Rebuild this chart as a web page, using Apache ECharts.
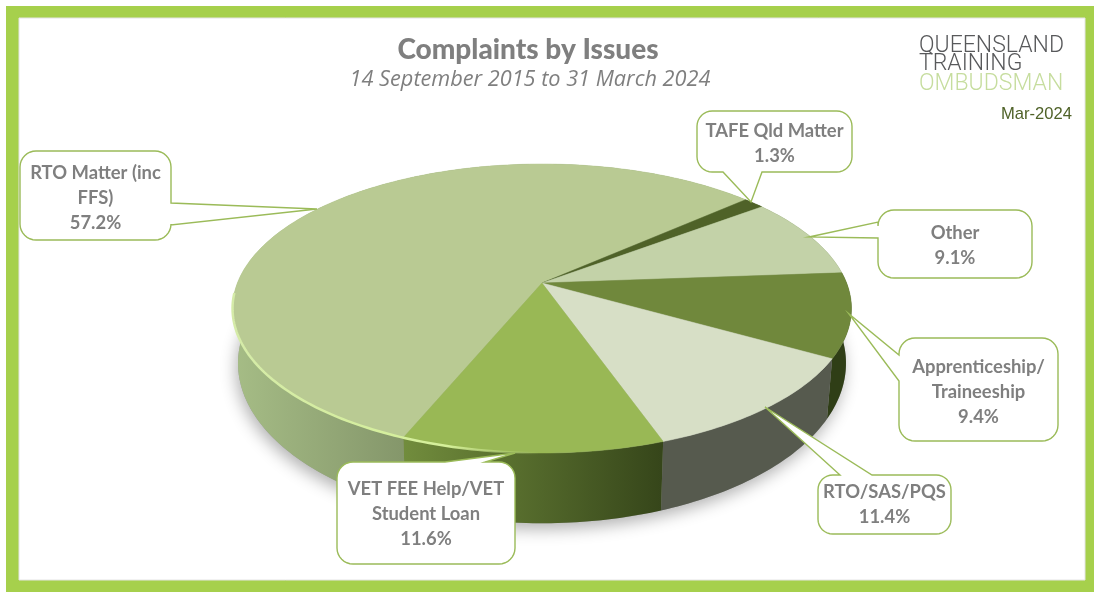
<!DOCTYPE html>
<html>
<head>
<meta charset="utf-8">
<title>Complaints by Issues</title>
<style>
html, body { margin: 0; padding: 0; background: #fff; }
#chart { width: 1094px; height: 595px; }
</style>
<script src="https://cdn.jsdelivr.net/npm/echarts@6/dist/echarts.min.js"></script>
</head>
<body>
<div id="chart"></div>
<script>
// values, clockwise from the edge RTO Matter starts at
const categories = ['RTO Matter (inc\nFFS)', 'TAFE Qld Matter', 'Other', 'Apprenticeship/\nTraineeship', 'RTO/SAS/PQS', 'VET FEE Help/VET\nStudent Loan']
const values = [57.2, 1.3, 9.1, 9.4, 11.4, 11.6]

const topColors = ['#b9ca93', '#4f6228', '#c3d2a8', '#70883c', '#d7dfc6', '#99b855']
const wallColors = [
    [232, 401, '#a6bd86', '#85976b'],
    [0, 1, '#4f6228', '#4f6228'],
    [0, 1, '#6a7a50', '#6a7a50'],
    [0, 1, '#2f3e16', '#2f3e16'],
    [0, 1, '#565a4e', '#565a4e'],
    [401, 661, '#728d3d', '#36461a']
]

// box [x0, y0, x1, y1], wedge base a, wedge base b, wedge tip
const callouts = [
    { box: [20, 151, 171, 240], a: [171, 203], b: [171, 225], tip: [317, 209], textY: 198 },
    { box: [697, 111, 852, 172], a: [762, 172], b: [723, 172], tip: [751, 202], textY: 144 },
    { box: [878, 210, 1032, 278], a: [878, 222], b: [878, 238], tip: [809, 237], textY: 246 },
    { box: [899, 338, 1058, 441], a: [899, 355], b: [899, 381], tip: [849, 314], textY: 392 },
    { box: [818, 475, 951, 534], a: [872, 475], b: [840, 475], tip: [765, 407], textY: 505 },
    { box: [337, 462, 515, 564], a: [485, 462], b: [445, 462], tip: [515, 453], textY: 514 }
]

// tilted disc: apex of the slices, radii and perspective factor
const topDisc = { cy: 283, rx: 304.6, ry: 140 }
const baseDisc = { cy: 335, rx: 299.2, ry: 155 }
const cx = 542, persp = 0.1765
const startAngle = 112.4

function project(deg, disc) {
    const t = deg * Math.PI / 180
    const u = Math.cos(t), v = Math.sin(t)
    const w = 1 - persp * v
    return [cx + disc.rx * u / w, disc.cy + disc.ry * v / w]
}

function arc(from, to, disc) {
    const pts = []
    const n = Math.max(2, Math.ceil(Math.abs(to - from)))
    for (let i = 0; i <= n; i++) {
        pts.push(project(from + (to - from) * i / n, disc))
    }
    return pts
}

const total = values.reduce((a, b) => a + b, 0)
function sliceAngles(idx) {
    let acc = 0
    for (let i = 0; i < idx; i++) acc += values[i]
    const from = startAngle + acc / total * 360
    return [from, from + values[idx] / total * 360]
}

function renderWall(params, api) {
    const i = params.dataIndex
    const [from, to] = sliceAngles(i)
    const pts = arc(from, to, topDisc).concat(arc(to, from, baseDisc))
    const c = wallColors[i]
    const children = []
    if (i === 0) {
        children.push({
            type: 'polygon',
            shape: { points: arc(0, 360, baseDisc) },
            style: { fill: '#999', shadowBlur: 16, shadowColor: 'rgba(0,0,0,0.3)', shadowOffsetX: -2, shadowOffsetY: 6 }
        })
    }
    children.push({
        type: 'polygon',
        shape: { points: pts },
        style: {
            fill: new echarts.graphic.LinearGradient(c[0], 0, c[1], 0, [
                { offset: 0, color: c[2] }, { offset: 1, color: c[3] }
            ], true)
        }
    })
    return { type: 'group', children: children }
}

function renderTop(params, api) {
    const i = params.dataIndex
    const [from, to] = sliceAngles(i)
    return {
        type: 'polygon',
        shape: { points: [[cx, topDisc.cy]].concat(arc(from, to, topDisc)) },
        style: { fill: topColors[i], stroke: topColors[i], lineWidth: 0.5 }
    }
}

// light bevel along the front left rim
function renderBevel() {
    return {
        type: 'polyline',
        shape: { points: arc(84, 176, topDisc) },
        style: {
            fill: null,
            lineWidth: 2.5,
            stroke: new echarts.graphic.LinearGradient(232, 0, 540, 0, [
                { offset: 0, color: '#d5eba8' },
                { offset: 0.7, color: '#d5f09a' },
                { offset: 1, color: 'rgba(190,220,130,0)' }
            ], true)
        }
    }
}

function calloutPoints(c) {
    const [x0, y0, x1, y1] = c.box
    const r = Math.min(16, (y1 - y0) / 4)
    const corner = (ox, oy, start) => {
        const pts = []
        for (let k = 0; k <= 8; k++) {
            const t = (start + k * 90 / 8) * Math.PI / 180
            pts.push([ox + r * Math.cos(t), oy + r * Math.sin(t)])
        }
        return pts
    }
    const top = c.a[1] === y0 && c.b[1] === y0
    const right = c.a[0] === x1
    const left = c.a[0] === x0
    const wedge = [c.a, c.tip, c.b]
    let pts = corner(x0 + r, y0 + r, 180)
    if (top) pts = pts.concat(wedge.slice().reverse())
    pts = pts.concat(corner(x1 - r, y0 + r, 270))
    if (right) pts = pts.concat(wedge)
    pts = pts.concat(corner(x1 - r, y1 - r, 0))
    if (!top && !right && !left) pts = pts.concat(wedge)
    pts = pts.concat(corner(x0 + r, y1 - r, 90))
    if (left) pts = pts.concat(wedge.slice().reverse())
    return pts
}

const graphics = [
    { type: 'rect', z: -2, shape: { x: 6, y: 6, width: 1088, height: 586 }, style: { fill: '#a6d04c' } },
    { type: 'rect', z: -1, shape: { x: 19, y: 18, width: 1066, height: 562 }, style: { fill: '#fff', stroke: '#e4e4e4', lineWidth: 1 } },
    { type: 'text', z: 5, x: 919, y: 35, style: { text: 'QUEENSLAND', fill: '#58595b', font: '300 23px Roboto' } },
    { type: 'text', z: 5, x: 919, y: 53, style: { text: 'TRAINING', fill: '#58595b', font: '300 23px Roboto' } },
    { type: 'text', z: 5, x: 919, y: 73, style: { text: 'OMBUDSMAN', fill: '#c6dd9e', font: '300 23px Roboto' } },
    { type: 'text', z: 5, x: 1001, y: 106, style: { text: 'Mar-2024', fill: '#4f6228', font: '16.6px "Liberation Sans"' } }
]

callouts.forEach((c, i) => {
    graphics.push({
        type: 'polygon',
        z: 10,
        shape: { points: calloutPoints(c) },
        style: { fill: '#fff', stroke: '#9bbb59', lineWidth: 1.4 }
    })
    graphics.push({
        type: 'text',
        z: 11,
        x: (c.box[0] + c.box[2]) / 2,
        y: c.textY,
        style: {
            text: categories[i] + '\n' + values[i].toFixed(1) + '%',
            fill: '#7f7f7f',
            font: 'bold 18.4px Lato',
            lineHeight: 25,
            align: 'center',
            verticalAlign: 'middle'
        }
    })
})

const myChart = echarts.init(document.getElementById('chart'), null, { renderer: 'canvas' })
myChart.setOption({
    animation: false,
    title: [{
        text: 'Complaints by Issues',
        left: 523,
        top: 31,
        textAlign: 'center',
        textStyle: { color: '#7f7f7f', fontSize: 28, fontWeight: 900, fontFamily: 'Lato' }
    }, {
        text: '14 September 2015 to 31 March 2024',
        left: 525,
        top: 64,
        textAlign: 'center',
        textStyle: { color: '#7f7f7f', fontSize: 21.7, fontWeight: 'normal', fontStyle: 'italic', fontFamily: 'Open Sans' }
    }],
    graphic: graphics,
    series: [
        { type: 'custom', coordinateSystem: 'none', silent: true, z: 2, renderItem: renderWall, data: values },
        { type: 'custom', coordinateSystem: 'none', silent: true, z: 3, renderItem: renderTop, data: values },
        { type: 'custom', coordinateSystem: 'none', silent: true, z: 4, renderItem: renderBevel, data: [total] }
    ]
})
</script>
</body>
</html>
